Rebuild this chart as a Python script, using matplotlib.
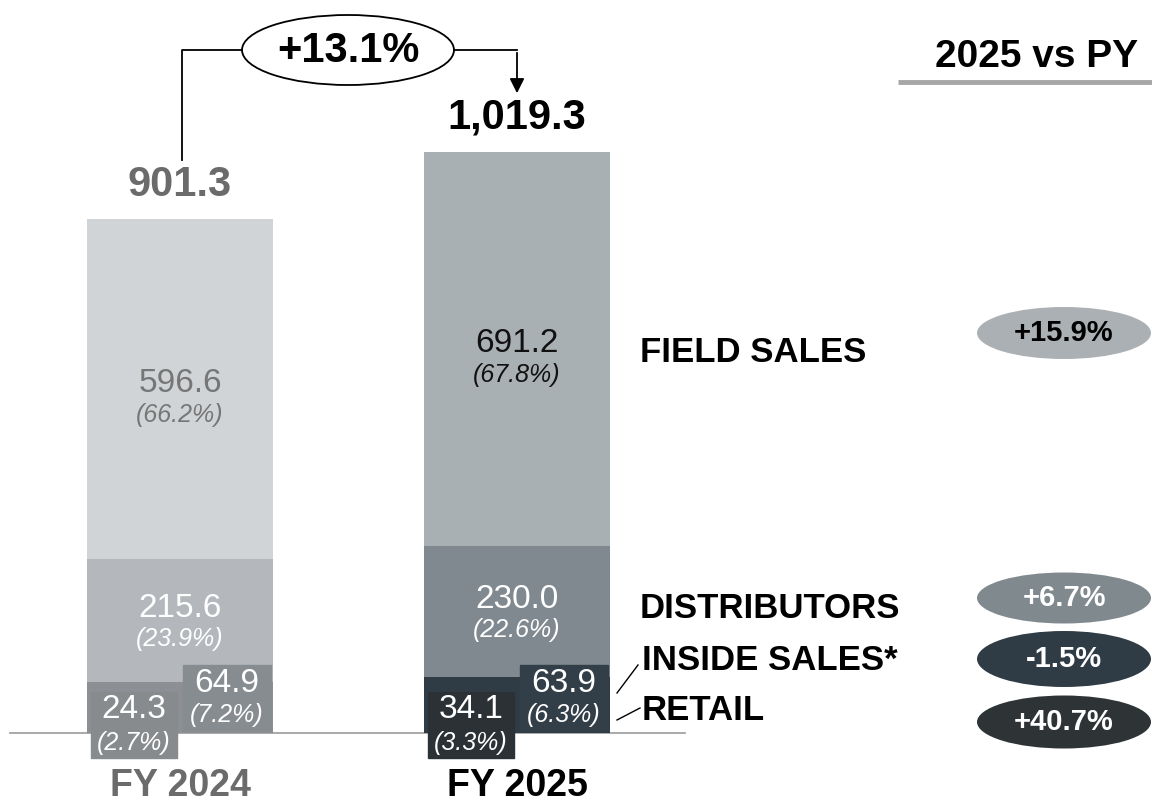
import matplotlib
matplotlib.use("Agg")
import matplotlib.pyplot as plt
from matplotlib.patches import Ellipse, Rectangle

plt.rcParams["font.family"] = ["Liberation Sans", "DejaVu Sans"]

# ---------------------------------------------------------------- data
years = ["FY 2024", "FY 2025"]
totals = [901.3, 1019.3]
field = [596.6, 691.2]
distributors = [215.6, 230.0]
inside = [64.9, 63.9]
retail = [24.3, 34.1]
field_pct = [66.2, 67.8]
dist_pct = [23.9, 22.6]
inside_pct = [7.2, 6.3]
retail_pct = [2.7, 3.3]
total_growth = 13.1
channels = ["FIELD SALES", "DISTRIBUTORS", "INSIDE SALES*", "RETAIL"]
growth = [15.9, 6.7, -1.5, 40.7]

# ---------------------------------------------------------------- style
W, H = 1152, 809
BASE = 733          # baseline pixel row
K = 0.57            # pixels per unit
XC = [180, 517]     # bar centres (px)
BW = 186
FIELD_C = ["#d0d4d6", "#a9b0b3"]
DIST_C = ["#b4b8bc", "#7f898f"]
LOW_C = ["#8c9094", "#2f3c46"]
RET_BOX = ["#888b8e", "#2c3135"]
INS_BOX = ["#878c91", "#323f49"]
TOP_C = ["#6b6b6b", "#000000"]
FIELD_TXT = ["#767676", "#111111"]
PILL_C = ["#aab0b3", "#80898e", "#2f3c46", "#2e3336"]
PILL_TXT = ["black", "white", "white", "white"]


def py(p):
    """pixel row -> value coordinate"""
    return (BASE - p) / K


fig = plt.figure(figsize=(W / 100, H / 100), dpi=100)
ax = fig.add_axes([0, 0, 1, 1])
ax.set_xlim(0, W)
ax.set_ylim(py(H), py(0))
ax.axis("off")

# baseline
ax.plot([10, 685], [0, 0], color="#a3a3a3", lw=1.3, zorder=1)

for i in range(2):
    x = XC[i]
    low = retail[i] + inside[i]
    ax.bar(x, retail[i], width=BW, color=LOW_C[i], zorder=2)
    ax.bar(x, inside[i], width=BW, bottom=retail[i], color=LOW_C[i], zorder=2)
    ax.bar(x, distributors[i], width=BW, bottom=low, color=DIST_C[i], zorder=2)
    ax.bar(x, field[i], width=BW, bottom=low + distributors[i], color=FIELD_C[i], zorder=2)

    # field label
    mid = low + distributors[i] + field[i] / 2
    ax.annotate(f"{field[i]:.1f}", (x, mid), xytext=(0, 6), textcoords="offset pixels",
                ha="center", va="center", fontsize=24, color=FIELD_TXT[i])
    ax.annotate(f"({field_pct[i]:.1f}%)", (x, mid), xytext=(0, -26), textcoords="offset pixels",
                ha="center", va="center", fontsize=18, style="italic", color=FIELD_TXT[i])
    # distributors label
    mid = low + distributors[i] / 2
    ax.annotate(f"{distributors[i]:.1f}", (x, mid), xytext=(0, 12), textcoords="offset pixels",
                ha="center", va="center", fontsize=24, color="white")
    ax.annotate(f"({dist_pct[i]:.1f}%)", (x, mid), xytext=(0, -18), textcoords="offset pixels",
                ha="center", va="center", fontsize=18, style="italic", color="white")

    # label boxes for retail / inside
    rx0, rx1 = x - 89, x - 3
    ix0, ix1 = x + 3, x + 91
    ax.add_patch(Rectangle((rx0, py(758)), rx1 - rx0, (758 - 692) / K,
                           color=RET_BOX[i], zorder=3))
    ax.add_patch(Rectangle((ix0, py(731)), ix1 - ix0, (731 - 665) / K,
                           color=INS_BOX[i], zorder=3))
    ax.text((rx0 + rx1) / 2, py(710), f"{retail[i]:.1f}", ha="center", va="center",
            fontsize=24, color="white", zorder=4)
    ax.text((rx0 + rx1) / 2, py(743), f"({retail_pct[i]:.1f}%)", ha="center", va="center",
            fontsize=18, style="italic", color="white", zorder=4)
    ax.text((ix0 + ix1) / 2, py(683), f"{inside[i]:.1f}", ha="center", va="center",
            fontsize=24, color="white", zorder=4)
    ax.text((ix0 + ix1) / 2, py(715), f"({inside_pct[i]:.1f}%)", ha="center", va="center",
            fontsize=18, style="italic", color="white", zorder=4)

    # total on top + year label
    ax.annotate(f"{totals[i]:,.1f}", (x, totals[i]), xytext=(0, 14), textcoords="offset pixels",
                ha="center", va="bottom", fontsize=30, fontweight="bold", color=TOP_C[i])
    ax.text(x, py(786), years[i], ha="center", va="center", fontsize=27,
            fontweight="bold", color=TOP_C[i])

# growth bracket between totals
yb = py(50)
ax.plot([182, 182, 242], [py(160), yb, yb], color="black", lw=1.3)
ax.plot([454, 517], [yb, yb], color="black", lw=1.3)
ax.annotate("", xy=(517, py(96)), xytext=(517, yb),
            arrowprops=dict(arrowstyle="-|>", color="black", lw=1.3, mutation_scale=22))
ax.add_patch(Ellipse((348, yb), 212, 70 / K, facecolor="white", edgecolor="black", lw=1.3))
ax.text(348, py(51), f"+{total_growth:.1f}%", ha="center", va="center",
        fontsize=30, fontweight="bold")

# channel labels
label_y = [352, 608, 660, 710]
for name, ly in zip(channels, label_y):
    ax.text(640 if name in ("FIELD SALES", "DISTRIBUTORS") else 642, py(ly), name,
            ha="left", va="center", fontsize=25, fontweight="bold")
ax.plot([617, 638], [py(693), py(665)], color="black", lw=1)
ax.plot([617, 640], [py(720), py(708)], color="black", lw=1)

# growth pills
ax.text(1037, py(57), "2025 vs PY", ha="center", va="center", fontsize=28, fontweight="bold")
ax.plot([898, 1152], [py(82), py(82)], color="#a6a6a6", lw=3.5, solid_capstyle="butt")
pill_y = [333, 598, 659, 722]
pill_h = [52, 51, 56, 53]
for g, cy, ph, fc, tc in zip(growth, pill_y, pill_h, PILL_C, PILL_TXT):
    ax.add_patch(Ellipse((1064, py(cy)), 174, ph / K, facecolor=fc, edgecolor="none"))
    ax.text(1064, py(cy), f"{g:+.1f}%", ha="center", va="center", fontsize=21,
            fontweight="bold", color=tc)

fig.savefig("out.png", dpi=100, facecolor="white")
